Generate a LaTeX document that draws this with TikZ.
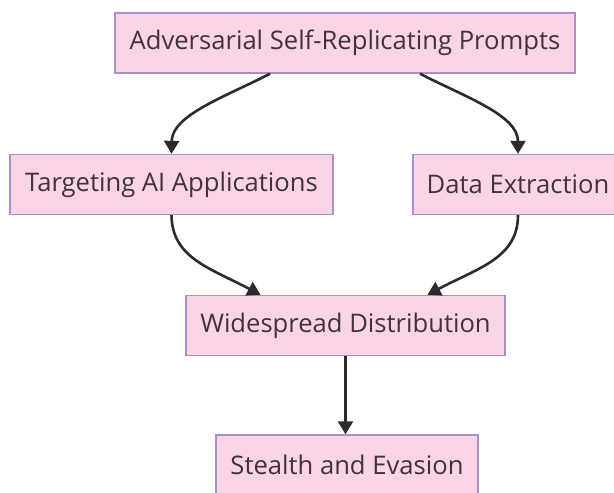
\documentclass[tikz,border=0pt]{standalone}
\usepackage{fontspec}
\setmainfont{Open Sans}
\usetikzlibrary{arrows.meta}
\definecolor{boxfill}{RGB}{249,212,228}
\definecolor{boxline}{RGB}{172,142,200}
\definecolor{txt}{RGB}{66,50,60}
\definecolor{arr}{RGB}{45,42,45}
\begin{document}
\begin{tikzpicture}[x=1pt,y=-1pt,
  box/.style={draw=boxline,fill=boxfill,line width=1.4pt,rectangle,inner sep=0pt,
    minimum height=60pt,text=txt,font=\fontsize{25.6}{30}\selectfont},
  conn/.style={draw=arr,line width=2.6pt,-{Triangle[length=13pt,width=15pt]}}]
\useasboundingbox (0,0) rectangle (614,493);
\fill[white] (0,0) rectangle (614,493);
\node[box,minimum width=460pt] (top) at (345,43) {Adversarial Self-Replicating Prompts};
\node[box,minimum width=323pt] (targ) at (171.5,184.5) {Targeting AI Applications};
\node[box,minimum width=210pt] (data) at (518,184.5) {Data Extraction};
\node[box,minimum width=319pt] (wide) at (345.5,325.5) {Widespread Distribution};
\node[box,minimum width=262pt] (stealth) at (347,465) {Stealth and Evasion};
\draw[conn] ([xshift=-75pt]top.south) .. controls (225,97) and (172,115) .. (targ.north);
\draw[conn] ([xshift=75pt]top.south) .. controls (465,97) and (518,115) .. (data.north);
\draw[conn] (targ.south) .. controls (172,258) and (210,268) .. ([xshift=-85pt]wide.north);
\draw[conn] (data.south) .. controls (518,258) and (478,268) .. ([xshift=82pt]wide.north);
\draw[conn] (wide.south) -- (wide.south |- stealth.north);
\end{tikzpicture}
\end{document}
